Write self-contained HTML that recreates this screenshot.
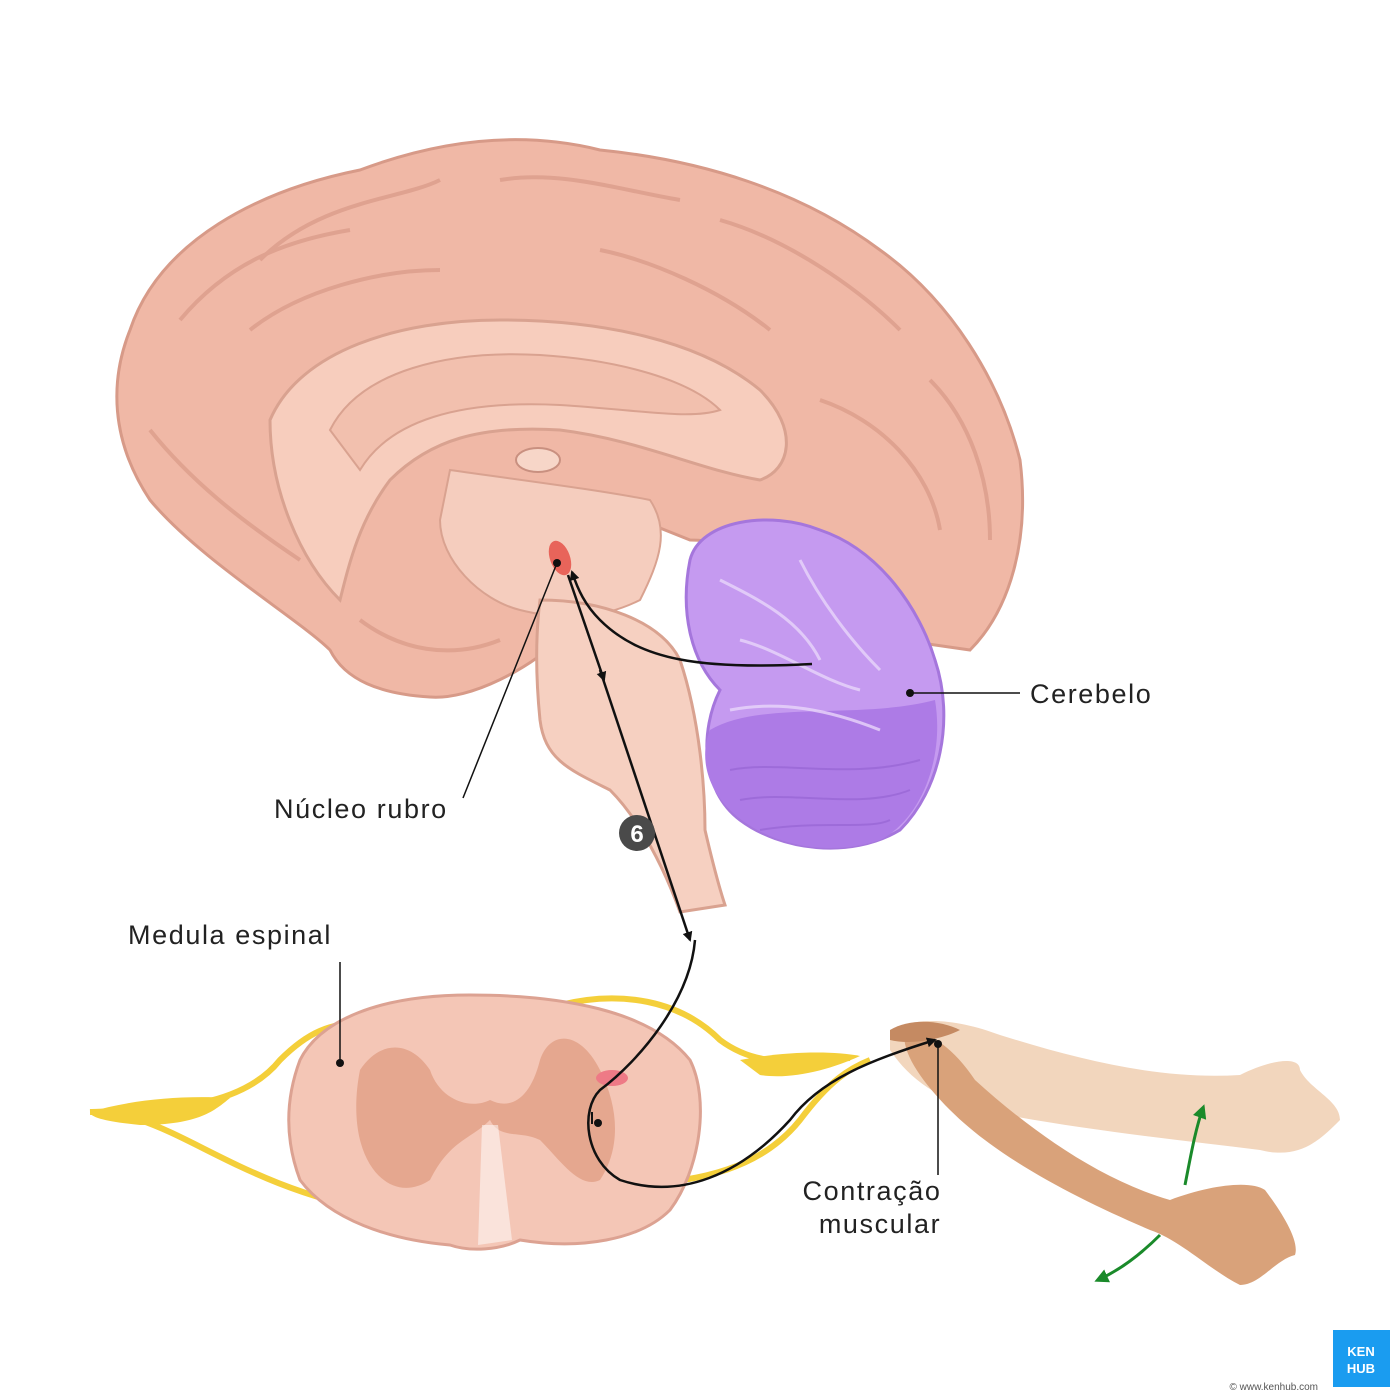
<!DOCTYPE html>
<html><head><meta charset="utf-8"><style>
html,body{margin:0;padding:0;background:#fff;}
svg{display:block}
text{font-family:"Liberation Sans",sans-serif;}
.lb{font-size:27px;letter-spacing:1.6px;fill:#222}
</style></head><body>
<svg width="1400" height="1400" viewBox="0 0 1400 1400" xmlns="http://www.w3.org/2000/svg">
<defs>
<marker id="ar" markerWidth="10" markerHeight="10" refX="8" refY="5" orient="auto" markerUnits="userSpaceOnUse"><path d="M0,0 L10,5 L0,10 z" fill="#111"/></marker>
<marker id="ag" markerWidth="14" markerHeight="14" refX="10" refY="7" orient="auto" markerUnits="userSpaceOnUse"><path d="M0,0 L14,7 L0,14 z" fill="#1a8a2a"/></marker>
</defs>
<rect width="1400" height="1400" fill="#fff"/>

<!-- Brain cerebrum -->
<path d="M130,330 C160,240 260,190 360,170 C440,140 520,130 600,150 C700,160 800,190 880,250 C950,300 1000,380 1020,460 C1030,540 1010,610 970,650 L900,640 C850,600 760,540 690,540 L640,520 C620,560 610,600 570,630 C530,670 470,700 430,697 C380,694 345,680 330,650 C300,620 200,560 150,500 C110,440 110,380 130,330 Z" fill="#f0b8a6" stroke="#d79a88" stroke-width="3"/>
<g fill="none" stroke="#d99a88" stroke-width="4" opacity="0.7">
<path d="M180,320 C230,260 290,240 350,230"/>
<path d="M260,260 C320,200 400,200 440,180"/>
<path d="M500,180 C560,170 620,190 680,200"/>
<path d="M720,220 C790,240 860,290 900,330"/>
<path d="M930,380 C970,420 990,480 990,540"/>
<path d="M150,430 C190,480 240,520 300,560"/>
<path d="M820,400 C880,420 930,470 940,530"/>
<path d="M600,250 C650,260 720,290 770,330"/>
<path d="M250,330 C300,290 380,270 440,270"/>
<path d="M360,620 C400,650 450,660 500,640"/>
</g>
<path d="M270,420 C300,350 400,320 500,320 C600,320 700,340 760,390 C800,430 790,470 760,480 C700,470 640,440 560,430 C480,425 430,440 390,480 C360,520 350,560 340,600 C300,560 270,490 270,420 Z" fill="#f7cdbd" stroke="#d9a290" stroke-width="3"/>
<path d="M330,430 C360,370 450,350 540,355 C620,360 690,380 720,410 C690,420 640,410 560,405 C460,400 390,420 360,470 Z" fill="#f2c0ae" stroke="#d9a290" stroke-width="2"/>
<ellipse cx="538" cy="460" rx="22" ry="12" fill="#f7d6c8" stroke="#c99080" stroke-width="2"/>
<path d="M450,470 C520,480 600,490 650,500 C670,530 660,560 640,600 C600,620 560,620 520,610 C480,600 440,560 440,520 Z" fill="#f5cdbe" stroke="#d9a290" stroke-width="2"/>
<!-- brainstem -->
<path d="M540,600 C600,600 660,620 680,660 C700,720 705,790 705,830 C712,860 720,890 725,905 L680,912 C665,870 640,820 610,790 C570,770 545,760 540,720 C536,680 535,640 540,600 Z" fill="#f6d0c1" stroke="#d9a290" stroke-width="3"/>
<ellipse cx="560" cy="558" rx="10" ry="18" fill="#e8645a" transform="rotate(-20 560 558)"/>

<!-- Cerebellum -->
<path d="M690,560 C700,520 770,510 820,530 C880,550 920,610 935,660 C955,720 940,790 900,830 C850,860 780,850 740,820 C700,790 700,730 720,690 C690,660 680,610 690,560 Z" fill="#c59af0" stroke="#a576dc" stroke-width="3"/>
<path d="M710,730 C760,700 860,720 935,700 C945,760 920,820 880,840 C820,860 760,840 730,810 C705,785 700,755 710,730 Z" fill="#ad7be6"/>
<g fill="none" stroke="#e9d6fb" stroke-width="3" opacity="0.8">
<path d="M720,580 C760,600 800,620 820,660"/>
<path d="M740,640 C780,650 820,680 860,690"/>
<path d="M800,560 C820,600 850,640 880,670"/>
<path d="M730,710 C780,700 830,710 880,730"/>
</g>
<g fill="none" stroke="#9462d1" stroke-width="2" opacity="0.6">
<path d="M730,770 C780,760 850,780 920,760"/>
<path d="M740,800 C790,790 860,810 910,790"/>
<path d="M760,830 C820,820 870,830 890,820"/>
</g>

<!-- Nerves -->
<g fill="none" stroke="#f4cf3a" stroke-width="6">
<path d="M90,1112 C160,1110 240,1110 280,1060 C310,1030 330,1025 360,1022"/>
<path d="M140,1120 C200,1140 260,1190 380,1212"/>
<path d="M560,1005 C620,990 680,1000 720,1040 C760,1070 800,1060 850,1058"/>
<path d="M640,1185 C700,1180 760,1170 800,1120 C830,1080 850,1068 870,1060"/>
</g>
<path d="M90,1112 C130,1100 180,1095 230,1098 C215,1110 200,1125 140,1125 C110,1122 90,1118 90,1112 Z" fill="#f4cf3a"/>
<path d="M740,1060 C780,1052 830,1050 860,1056 C830,1070 790,1080 760,1075 Z" fill="#f4cf3a"/>

<!-- Spinal cord -->
<path d="M300,1060 C320,1020 380,995 470,995 C560,995 650,1010 690,1060 C710,1100 700,1170 670,1210 C640,1240 580,1250 520,1240 C500,1250 470,1252 450,1245 C390,1240 330,1220 300,1180 C285,1140 285,1100 300,1060 Z" fill="#f4c6b6" stroke="#dca292" stroke-width="3"/>
<path d="M360,1070 C380,1040 410,1040 430,1070 C440,1100 470,1110 490,1100 C510,1110 530,1100 540,1060 C550,1030 580,1030 600,1070 C620,1110 620,1150 600,1180 C580,1190 560,1160 540,1140 C520,1130 500,1140 490,1120 C470,1140 450,1140 430,1180 C400,1200 370,1180 360,1140 C355,1120 355,1095 360,1070 Z" fill="#e5a78f"/>
<path d="M482,1125 L498,1125 L512,1240 L478,1245 Z" fill="#fff" opacity="0.5"/>
<ellipse cx="612" cy="1078" rx="16" ry="8" fill="#ee7a86"/>

<!-- Arms -->
<path d="M890,1030 C920,1015 960,1020 1000,1035 C1080,1060 1160,1080 1240,1075 C1270,1060 1300,1055 1300,1070 C1310,1090 1340,1100 1340,1120 C1320,1140 1300,1160 1260,1150 C1180,1140 1080,1130 980,1110 C940,1100 910,1080 890,1050 Z" fill="#f2d6bd"/>
<path d="M905,1030 C930,1030 955,1050 975,1080 C1030,1130 1100,1180 1170,1200 C1210,1185 1250,1180 1265,1190 C1280,1210 1300,1240 1295,1255 C1275,1260 1260,1285 1240,1285 C1210,1270 1180,1240 1150,1230 C1080,1200 1000,1160 950,1110 C920,1080 900,1050 905,1030 Z" fill="#d9a27a"/>
<path d="M890,1030 C910,1018 940,1020 960,1030 C940,1040 910,1045 890,1040 Z" fill="#c58a62"/>

<path d="M1185,1185 C1190,1160 1195,1130 1203,1108" fill="none" stroke="#1a8a2a" stroke-width="3" marker-end="url(#ag)"/>
<path d="M1160,1235 C1140,1255 1120,1270 1098,1280" fill="none" stroke="#1a8a2a" stroke-width="3" marker-end="url(#ag)"/>

<!-- Pathways -->
<path d="M812,664 C700,670 640,660 600,620 C585,605 578,590 572,572" fill="none" stroke="#111" stroke-width="2.5" marker-end="url(#ar)"/>
<path d="M568,575 L604,680" fill="none" stroke="#111" stroke-width="2.5" marker-end="url(#ar)"/>
<path d="M600,670 L690,940" fill="none" stroke="#111" stroke-width="2.5" marker-end="url(#ar)"/>
<path d="M695,940 C690,1000 640,1060 600,1090 C580,1110 585,1160 620,1180 C680,1200 740,1175 790,1120 C820,1080 870,1060 935,1040" fill="none" stroke="#111" stroke-width="2.5" marker-end="url(#ar)"/>
<path d="M592,1112 L592,1124" stroke="#111" stroke-width="2"/>
<circle cx="598" cy="1123" r="4" fill="#111"/>

<!-- Labels -->
<line x1="557" y1="563" x2="463" y2="798" stroke="#111" stroke-width="1.5"/>
<circle cx="557" cy="563" r="4" fill="#111"/>
<text x="274" y="818" class="lb">Núcleo rubro</text>

<line x1="910" y1="693" x2="1020" y2="693" stroke="#111" stroke-width="1.5"/>
<circle cx="910" cy="693" r="4" fill="#111"/>
<text x="1030" y="703" class="lb">Cerebelo</text>

<line x1="340" y1="962" x2="340" y2="1062" stroke="#111" stroke-width="1.5"/>
<circle cx="340" cy="1063" r="4" fill="#111"/>
<text x="128" y="944" class="lb">Medula espinal</text>

<line x1="938" y1="1045" x2="938" y2="1175" stroke="#111" stroke-width="1.5"/>
<circle cx="938" cy="1044" r="4" fill="#111"/>
<text x="872" y="1200" class="lb" text-anchor="middle">Contração</text>
<text x="880" y="1233" class="lb" text-anchor="middle">muscular</text>

<circle cx="637" cy="833" r="18" fill="#4a4a4a"/>
<text x="637" y="842" font-size="24" font-weight="bold" fill="#fff" text-anchor="middle">6</text>

<rect x="1333" y="1330" width="57" height="57" fill="#1a9cf0"/>
<text x="1361" y="1356" font-size="13" font-weight="bold" fill="#fff" text-anchor="middle">KEN</text>
<text x="1361" y="1373" font-size="13" font-weight="bold" fill="#fff" text-anchor="middle">HUB</text>
<text x="1318" y="1390" font-size="10" fill="#555" text-anchor="end">© www.kenhub.com</text>
</svg>
</body></html>
